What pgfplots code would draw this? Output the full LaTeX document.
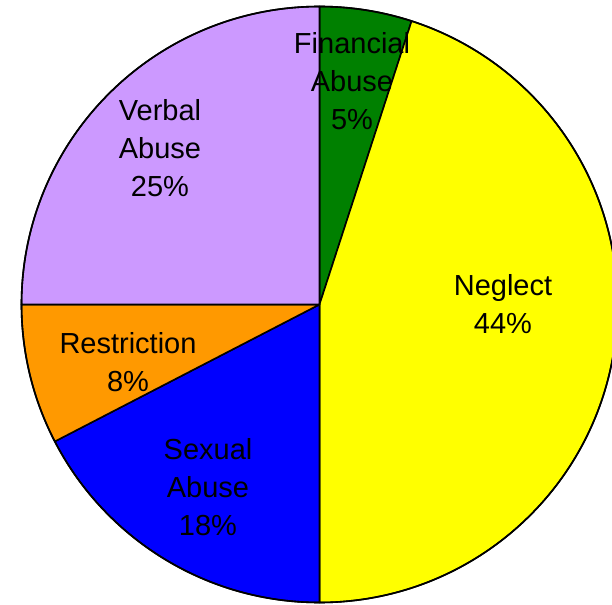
\documentclass[border=0pt]{standalone}
\usepackage{pgfplots}
\usepackage{pgfplotstable}
\pgfplotsset{compat=1.18}
\usepackage{fontspec}
\setmainfont{Liberation Sans}
\definecolor{cfin}{HTML}{008000}
\definecolor{cneg}{HTML}{FFFF00}
\definecolor{csex}{HTML}{0000FF}
\definecolor{cres}{HTML}{FF9900}
\definecolor{cver}{HTML}{CC99FF}
\pgfplotstableread{
value color
5.0  cfin
45.0 cneg
17.4 csex
7.6  cres
25.0 cver
}\slices
\begin{document}
\begin{tikzpicture}
\begin{axis}[x=1bp, y=1bp, xmin=0, xmax=612, ymin=0, ymax=605,
  hide axis, clip=true]
\def\startang{90}
\pgfplotsforeachungrouped \i in {0,...,4}{%
  \pgfplotstablegetelem{\i}{value}\of\slices \let\v\pgfplotsretval
  \pgfplotstablegetelem{\i}{color}\of\slices \let\c\pgfplotsretval
  \pgfmathsetmacro{\endang}{\startang - 3.6*\v}%
  \edef\temp{\noexpand\filldraw[fill=\c, draw=black, line width=1.6bp, line join=round]
    (axis cs:319.5,300.5) -- ++(\startang:298bp)
    arc[start angle=\startang, end angle=\endang, radius=298bp] -- cycle;}%
  \temp
  \global\let\startang\endang
}
\draw[black, line width=1.6bp] (axis cs:319.5,300.5) circle[radius=298bp];
\begin{scope}[every node/.style={align=center, font=\fontsize{29bp}{38bp}\selectfont, text=black}]
\node at (axis cs:352,524) {Financial\\Abuse\\5\%};
\node at (axis cs:503,301) {Neglect\\44\%};
\node at (axis cs:160,457) {Verbal\\Abuse\\25\%};
\node at (axis cs:128,243) {Restriction\\8\%};
\node at (axis cs:208,118) {Sexual\\Abuse\\18\%};
\end{scope}
\end{axis}
\pgfresetboundingbox
\useasboundingbox (0,0) rectangle (612bp,605bp);
\end{tikzpicture}
\end{document}
